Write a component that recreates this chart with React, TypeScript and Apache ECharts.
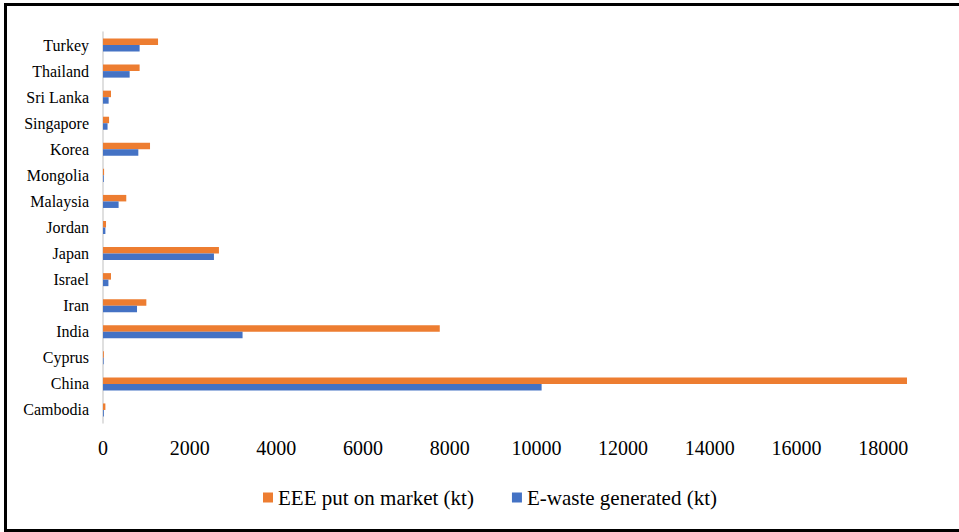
import React, { useEffect, useRef } from "react";
import * as echarts from "echarts";

// Countries, bottom to top as they appear on the category axis
const countries = [
  "Cambodia",
  "China",
  "Cyprus",
  "India",
  "Iran",
  "Israel",
  "Japan",
  "Jordan",
  "Malaysia",
  "Mongolia",
  "Korea",
  "Singapore",
  "Sri Lanka",
  "Thailand",
  "Turkey",
];

// EEE put on market (kt)
const eeeOnMarket = [55, 18550, 20, 7770, 1000, 185, 2675, 70, 537, 25, 1085, 140, 185, 845, 1270];

// E-waste generated (kt)
const eWasteGenerated = [20, 10120, 15, 3220, 785, 125, 2560, 55, 360, 18, 815, 105, 130, 615, 845];

const seriesNames = ["EEE put on market (kt)", "E-waste generated (kt)"];
// the value axis runs past the right edge of the frame; ticks every 2000 from 0
const xTicks = { min: 0, max: 19750, interval: 2000 };

const FONT = "Liberation Serif";

export default function App() {
  const ref = useRef<HTMLDivElement>(null);

  useEffect(() => {
    if (!ref.current) return;
    const chart = echarts.init(ref.current, undefined, { renderer: "svg" });
    chart.setOption({
      animation: false,
      backgroundColor: "#ffffff",
      textStyle: { fontFamily: FONT, color: "#000" },
      graphic: [
        {
          type: "rect",
          shape: { x: 5.5, y: 4.5, width: 1000, height: 526 },
          style: { fill: "none", stroke: "#000", lineWidth: 3 },
          silent: true,
        },
      ],
      legend: {
        data: seriesNames,
        left: 258,
        top: 482,
        itemWidth: 10,
        itemHeight: 10,
        itemGap: 38,
        icon: "rect",
        textStyle: { fontFamily: FONT, fontSize: 21, color: "#000" },
      },
      grid: { left: 103, top: 32, right: 0, height: 391, containLabel: false },
      xAxis: {
        type: "value",
        min: xTicks.min,
        max: xTicks.max,
        interval: xTicks.interval,
        axisLine: { show: false },
        axisTick: { show: false },
        splitLine: { show: false },
        axisLabel: {
          fontFamily: FONT,
          fontSize: 20,
          color: "#000",
          margin: 15,
          showMaxLabel: false,
          formatter: (v: number) => String(v),
        },
      },
      yAxis: {
        type: "category",
        data: countries,
        axisLine: { show: true, lineStyle: { color: "#d4d4d4", width: 1.5 } },
        axisTick: { show: false },
        axisLabel: { fontFamily: FONT, fontSize: 16, color: "#000", margin: 14 },
      },
      series: [
        {
          name: seriesNames[0],
          type: "bar",
          data: eeeOnMarket,
          itemStyle: { color: "#ED7D31" },
          barGap: "0%",
          barCategoryGap: "50%",
        },
        {
          name: seriesNames[1],
          type: "bar",
          data: eWasteGenerated,
          itemStyle: { color: "#4472C4" },
          barGap: "0%",
          barCategoryGap: "50%",
        },
      ],
    });
    return () => chart.dispose();
  }, []);

  return (
    <div
      ref={ref}
      style={{ position: "fixed", left: 0, top: 0, width: 959, height: 532 }}
    />
  );
}
